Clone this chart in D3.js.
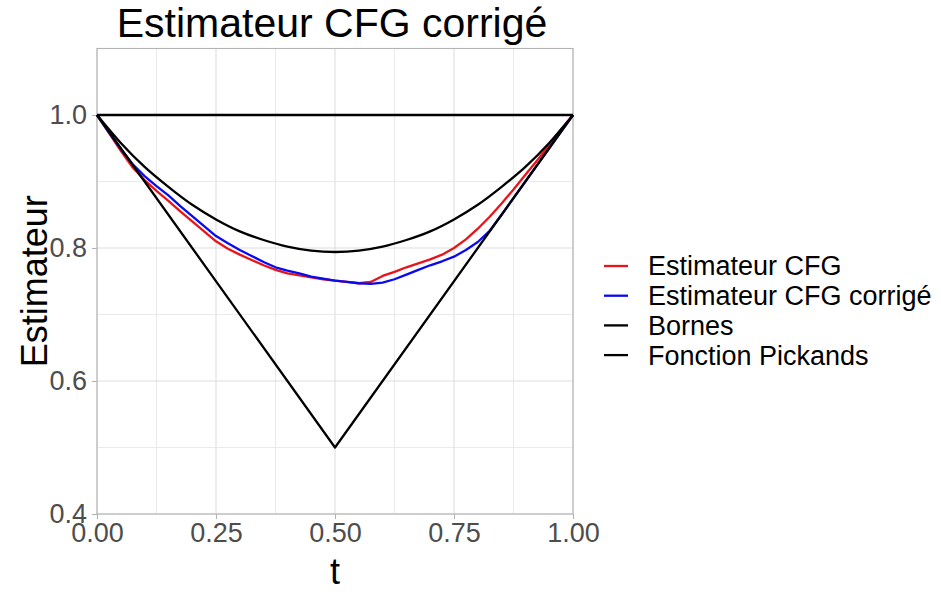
<!DOCTYPE html>
<html>
<head>
<meta charset="utf-8">
<script src="https://cdn.jsdelivr.net/npm/d3@7"></script>
<style>
  body { margin: 0; background: #fff; }
  svg { display: block; font-family: "Liberation Sans", Arial, sans-serif; }
</style>
</head>
<body>
<svg id="chart" width="941" height="592"></svg>
<script>
// ---- data ----
const tGrid = [0, 0.025, 0.05, 0.075, 0.1, 0.125, 0.15, 0.175, 0.2, 0.225, 0.25, 0.275, 0.3, 0.325, 0.35, 0.375, 0.4, 0.425, 0.45, 0.475, 0.5,
  0.525, 0.55, 0.575, 0.6, 0.625, 0.65, 0.675, 0.7, 0.725, 0.75, 0.775, 0.8, 0.825, 0.85, 0.875, 0.9, 0.925, 0.95, 0.975, 1];
const cfg = [1, 0.973, 0.946, 0.921, 0.902, 0.886, 0.871, 0.855, 0.840, 0.825, 0.810, 0.799, 0.790, 0.782, 0.774, 0.767, 0.762, 0.759, 0.756, 0.753, 0.751,
  0.749, 0.747, 0.749, 0.758, 0.764, 0.771, 0.777, 0.783, 0.790, 0.800, 0.813, 0.829, 0.847, 0.867, 0.888, 0.910, 0.932, 0.955, 0.978, 1];
const cfgCorrige = [1, 0.974, 0.949, 0.926, 0.908, 0.893, 0.879, 0.863, 0.848, 0.833, 0.818, 0.807, 0.797, 0.788, 0.779, 0.771, 0.766, 0.762, 0.757, 0.754, 0.751,
  0.749, 0.747, 0.746, 0.748, 0.753, 0.760, 0.767, 0.774, 0.780, 0.787, 0.797, 0.809, 0.826, 0.850, 0.875, 0.900, 0.925, 0.950, 0.975, 1];
const tBorneInf = [0, 0.5, 1];
const borneInf = [1, 0.5, 1];
const tBorneSup = [0, 1];
const borneSup = [1, 1];
const tPickands = [0, 0.05, 0.1, 0.15, 0.2, 0.25, 0.3, 0.35, 0.4, 0.45, 0.5, 0.55, 0.6, 0.65, 0.7, 0.75, 0.8, 0.85, 0.9, 0.95, 1];
const pickands = [1, 0.958, 0.922, 0.892, 0.865, 0.843, 0.825, 0.812, 0.802, 0.796, 0.794, 0.796, 0.802, 0.812, 0.825, 0.843, 0.865, 0.892, 0.922, 0.958, 1];
const xTicks = [0, 0.25, 0.5, 0.75, 1];
const xMinor = [0.125, 0.375, 0.625, 0.875];
const yTicks = [0.4, 0.6, 0.8, 1.0];
const yMinor = [0.5, 0.7, 0.9];
const legendLabels = ["Estimateur CFG", "Estimateur CFG corrigé", "Bornes", "Fonction Pickands"];
const legendColors = ["#e8141a", "#0a0aee", "#000000", "#000000"];

// ---- layout ----
const svg = d3.select("#chart");
const pLeft = 97, pRight = 573, pTop = 48.5, pBottom = 514;
const x = d3.scaleLinear().domain([0, 1]).range([pLeft, pRight]);
const y = d3.scaleLinear().domain([0.4, 1.1]).range([pBottom, pTop]);

// grid
const g = svg.append("g");
g.selectAll(".xmin").data(xMinor).join("line")
  .attr("x1", d => x(d)).attr("x2", d => x(d)).attr("y1", pTop).attr("y2", pBottom)
  .attr("stroke", "#e4e4e4").attr("stroke-width", 0.8);
g.selectAll(".ymin").data(yMinor).join("line")
  .attr("y1", d => y(d)).attr("y2", d => y(d)).attr("x1", pLeft).attr("x2", pRight)
  .attr("stroke", "#e4e4e4").attr("stroke-width", 0.8);
g.selectAll(".xmaj").data(xTicks).join("line")
  .attr("x1", d => x(d)).attr("x2", d => x(d)).attr("y1", pTop).attr("y2", pBottom)
  .attr("stroke", "#dedede").attr("stroke-width", 1.1);
g.selectAll(".ymaj").data(yTicks).join("line")
  .attr("y1", d => y(d)).attr("y2", d => y(d)).attr("x1", pLeft).attr("x2", pRight)
  .attr("stroke", "#dedede").attr("stroke-width", 1.1);

// panel border
svg.append("rect").attr("x", pLeft).attr("y", pTop).attr("width", pRight - pLeft).attr("height", pBottom - pTop)
  .attr("fill", "none").attr("stroke", "#b3b3b3").attr("stroke-width", 1.1);

// axes
const xAxis = svg.append("g").attr("transform", `translate(0,${pBottom})`)
  .call(d3.axisBottom(x).tickValues(xTicks).tickFormat(d3.format(".2f")).tickSize(5).tickPadding(4));
const yAxis = svg.append("g").attr("transform", `translate(${pLeft},0)`)
  .call(d3.axisLeft(y).tickValues(yTicks).tickFormat(d3.format(".1f")).tickSize(5).tickPadding(5));
[xAxis, yAxis].forEach(a => {
  a.select(".domain").remove();
  a.selectAll(".tick line").attr("stroke", "#b3b3b3").attr("stroke-width", 1.1);
  a.selectAll(".tick text").attr("fill", "#4d4d4d").style("font-size", "27px")
    .style("font-family", "'Liberation Sans', Arial, sans-serif");
});

// lines
const line = d3.line().x(d => x(d[0])).y(d => y(d[1]));
const smooth = d3.line().x(d => x(d[0])).y(d => y(d[1])).curve(d3.curveMonotoneX);
const series = [
  { pts: d3.zip(tGrid, cfg), color: legendColors[0], gen: line },
  { pts: d3.zip(tGrid, cfgCorrige), color: legendColors[1], gen: line },
  { pts: d3.zip(tBorneInf, borneInf), color: legendColors[2], gen: line },
  { pts: d3.zip(tBorneSup, borneSup), color: legendColors[2], gen: line },
  { pts: d3.zip(tPickands, pickands), color: legendColors[3], gen: smooth }
];
svg.append("g").selectAll("path").data(series).join("path")
  .attr("d", d => d.gen(d.pts)).attr("fill", "none").attr("stroke", d => d.color)
  .attr("stroke-width", 2.3).attr("stroke-linejoin", "round").attr("stroke-linecap", "butt");

// title & axis titles
svg.append("text").attr("x", 332).attr("y", 37).attr("text-anchor", "middle")
  .style("font-size", "41px").attr("fill", "#000").text("Estimateur CFG corrigé");
svg.append("text").attr("x", (pLeft + pRight) / 2).attr("y", 584).attr("text-anchor", "middle")
  .style("font-size", "36px").attr("fill", "#000").text("t");
svg.append("text").attr("transform", `translate(47,${(pTop + pBottom) / 2}) rotate(-90)`).attr("text-anchor", "middle")
  .style("font-size", "36px").attr("fill", "#000").text("Estimateur");

// legend
const lg = svg.append("g").attr("transform", "translate(604,266)");
const items = lg.selectAll("g").data(legendLabels).join("g").attr("transform", (d, i) => `translate(0,${i * 29.7})`);
items.append("line").attr("x1", 0).attr("x2", 24).attr("y1", 0).attr("y2", 0)
  .attr("stroke", (d, i) => legendColors[i]).attr("stroke-width", 2.3);
items.append("text").attr("x", 44).attr("y", 0).attr("dy", "0.35em").style("font-size", "27px")
  .attr("fill", "#000").text(d => d);
</script>
</body>
</html>
